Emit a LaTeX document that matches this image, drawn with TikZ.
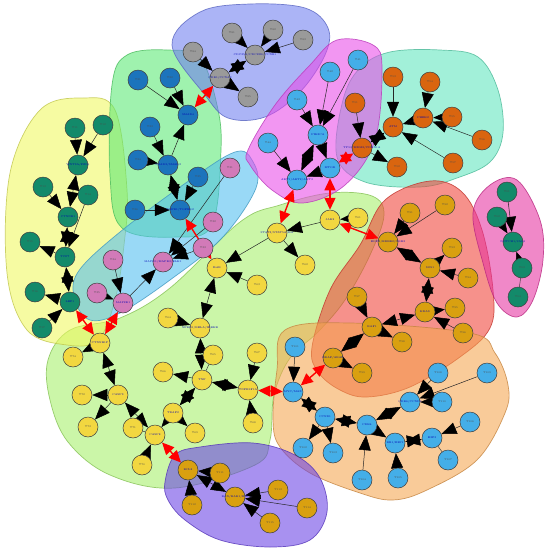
\documentclass[tikz,border=0pt]{standalone}
\usetikzlibrary{arrows.meta}
\pgfdeclarelayer{blobs}
\pgfdeclarelayer{edges}
\pgfsetlayers{blobs,edges,main}
\definecolor{cgrey}{HTML}{9A9A9A}
\definecolor{cdblue}{HTML}{1C74BC}
\definecolor{cteal}{HTML}{138A6A}
\definecolor{cpink}{HTML}{D27AB8}
\definecolor{clblue}{HTML}{44AEE8}
\definecolor{corange}{HTML}{D9650F}
\definecolor{cyellow}{HTML}{F2D740}
\definecolor{cgold}{HTML}{D9A010}
\definecolor{bgrey}{HTML}{6E7DF0}
\definecolor{bgreen}{HTML}{5AE873}
\definecolor{byellow}{HTML}{F0F85F}
\definecolor{blblue}{HTML}{50BEF0}
\definecolor{bmag}{HTML}{E84AE8}
\definecolor{bteal}{HTML}{5FE6BE}
\definecolor{bbig}{HTML}{A5F069}
\definecolor{bred}{HTML}{F04137}
\definecolor{bpink}{HTML}{E632A0}
\definecolor{bpeach}{HTML}{F5A550}
\definecolor{bpurp}{HTML}{6941E6}
\begin{document}
\begin{tikzpicture}[x=1pt,y=-1pt,
  blob/.style={fill opacity=0.58, draw opacity=0.8, line width=0.7pt},
  nd/.style={circle, draw=black!75, line width=0.5pt, minimum size=20pt, inner sep=0pt, font=\fontsize{2.6}{3}\selectfont, text=black!70},
  ng/.style={nd, fill=cgrey}, nb/.style={nd, fill=cdblue}, nt/.style={nd, fill=cteal},
  np/.style={nd, fill=cpink}, nl/.style={nd, fill=clblue}, no/.style={nd, fill=corange},
  ny/.style={nd, fill=cyellow}, nu/.style={nd, fill=cgold},
  hub/.style={label={[font=\fontsize{2.6}{3}\selectfont, text=blue!70!black, inner sep=0pt]center:#1}},
  e/.style={draw=black!85, line width=0.5pt, -{Triangle[length=15pt,width=12pt,color=black]}},
  bi/.style={draw=black!85, line width=0.5pt, {Triangle[length=15pt,width=12pt,color=black]}-{Triangle[length=15pt,width=12pt,color=black]}},
  ln/.style={draw=black!75, line width=0.5pt},
  rd/.style={draw=red, line width=1.4pt, {Triangle[length=12pt,width=11pt]}-{Triangle[length=12pt,width=11pt]}}
]
\useasboundingbox (0,0) rectangle (545,550);
% ---------- blobs ----------
\begin{pgfonlayer}{blobs}
\filldraw[blob, fill=bbig, draw=bbig!80!black] plot[smooth cycle, tension=0.6] coordinates {(48,360) (70,330) (120,318) (170,288) (240,222) (280,205) (330,193) (372,196) (384,215) (370,255) (345,300) (318,332) (290,358) (274,395) (270,440) (255,465) (175,488) (110,475) (68,442) (50,400)};
\filldraw[blob, fill=byellow, draw=byellow!80!black] plot[smooth cycle, tension=0.6] coordinates {(10,173) (40,110) (83,98) (115,110) (127,190) (124,245) (115,300) (98,340) (67,345) (27,330) (7,273)};
\filldraw[blob, fill=bgreen, draw=bgreen!80!black] plot[smooth cycle, tension=0.6] coordinates {(112,85) (127,55) (167,50) (200,58) (217,105) (221,150) (212,225) (177,237) (122,228) (110,175)};
\filldraw[blob, fill=blblue, draw=blblue!80!black] plot[smooth cycle, tension=0.6] coordinates {(78,272) (120,232) (190,180) (235,152) (252,160) (256,188) (222,238) (170,280) (120,313) (90,320) (75,300)};
\filldraw[blob, fill=bgrey, draw=bgrey!80!black] plot[smooth cycle, tension=0.6] coordinates {(172,45) (200,12) (250,4) (305,8) (328,28) (325,55) (300,92) (265,117) (228,118) (205,95)};
\filldraw[blob, fill=bteal, draw=bteal!80!black] plot[smooth cycle, tension=0.6] coordinates {(343,100) (360,68) (390,52) (440,50) (478,57) (498,90) (503,133) (490,162) (457,178) (420,187) (365,182) (337,157)};
\filldraw[blob, fill=bmag, draw=bmag!80!black] plot[smooth cycle, tension=0.6] coordinates {(248,150) (275,105) (310,65) (337,40) (373,45) (382,68) (375,140) (345,185) (303,203) (272,190) (250,165)};
\filldraw[blob, fill=bred, draw=bred!80!black] plot[smooth cycle, tension=0.6] coordinates {(312,347) (330,290) (360,245) (385,200) (430,181) (462,192) (482,230) (493,290) (490,328) (460,357) (410,387) (367,397) (340,390) (318,372)};
\filldraw[blob, fill=bpink, draw=bpink!80!black] plot[smooth cycle, tension=0.6] coordinates {(473,213) (490,185) (517,180) (540,220) (543,260) (533,300) (517,317) (497,303) (483,263)};
\filldraw[blob, fill=bpeach, draw=bpeach!80!black] plot[smooth cycle, tension=0.6] coordinates {(273,420) (277,370) (285,330) (350,323) (470,333) (495,353) (508,385) (505,413) (477,460) (427,490) (393,500) (360,493) (310,473) (280,447)};
\filldraw[blob, fill=bpurp, draw=bpurp!80!black] plot[smooth cycle, tension=0.6] coordinates {(165,482) (175,455) (200,447) (253,443) (295,455) (320,478) (327,512) (310,540) (270,547) (220,540) (185,520) (168,500)};
\end{pgfonlayer}
% ---------- nodes ----------
% grey
\node[ng] (g1) at (232,33) {T81};
\node[ng] (g2) at (273,30) {T82};
\node[ng] (g3) at (303,40) {T83};
\node[ng] (g4) at (193,52) {T84};
\node[ng, hub={CDC25A/CDC25B/CCNB1}] (G1) at (255,55) {};
\node[ng, hub={CDK1/CCNA2}] (G2) at (220,78) {};
\node[ng] (g5) at (248,97) {T85};
% dark blue
\node[nb] (b1) at (138,80) {T21};
\node[nb] (b2) at (170,78) {T22};
\node[nb, hub={SMAD4}] (B1) at (188,115) {};
\node[nb] (b3) at (150,127) {T23};
\node[nb, hub={SMAD2/SMAD3}] (B2) at (168,165) {};
\node[nb] (b4) at (138,160) {T24};
\node[nb] (b5) at (198,177) {T25};
\node[nb, hub={TGFB1/TGFBR2}] (B3) at (180,210) {};
\node[nb] (b6) at (135,210) {T26};
% teal (yellow blob)
\node[nt] (t1) at (75,128) {T11};
\node[nt] (t2) at (103,125) {T12};
\node[nt, hub={WNT3A/FZD1}] (T1) at (78,165) {};
\node[nt] (t3) at (43,187) {T13};
\node[nt] (t4) at (88,195) {T14};
\node[nt, hub={CTNNB1}] (T2) at (68,217) {};
\node[nt] (t5) at (30,242) {T15};
\node[nt, hub={TCF7}] (T3) at (65,257) {};
\node[nt] (t6) at (35,292) {T16};
\node[nt, hub={LEF1}] (T4) at (70,302) {};
\node[nt] (t7) at (42,328) {T17};
% pink
\node[np] (p1) at (230,168) {T31};
\node[np] (p2) at (213,222) {T32};
\node[np] (p3) at (203,248) {T33};
\node[np, hub={MAPK1/MAPK3/ELK1}] (P1) at (163,262) {};
\node[np] (p4) at (113,260) {T34};
\node[np] (p5) at (97,293) {T35};
\node[np, hub={MAP2K1}] (P2) at (123,303) {};
% light blue (magenta blob)
\node[nl] (l1) at (358,60) {T41};
\node[nl] (l2) at (330,72) {T42};
\node[nl] (l3) at (297,100) {T43};
\node[nl, hub={PIK3CA}] (L1) at (318,135) {};
\node[nl] (l4) at (268,143) {T44};
\node[nl, hub={AKT1/AKT2/AKT3}] (L2) at (297,180) {};
\node[nl, hub={MTOR}] (L3) at (330,168) {};
% orange (teal blob)
\node[no] (o1) at (355,103) {T51};
\node[no, hub={TP53/MDM2/CDKN1A}] (O1) at (362,148) {};
\node[no] (o2) at (397,167) {T52};
\node[no] (o3) at (393,77) {T53};
\node[no, hub={ATM}] (O2) at (393,127) {};
\node[no, hub={CHEK2}] (O3) at (423,118) {};
\node[no] (o4) at (430,82) {T54};
\node[no] (o5) at (452,117) {T55};
\node[no] (o6) at (482,140) {T56};
\node[no] (o7) at (453,163) {T57};
% yellow
\node[ny, hub={JAK2}] (Y3) at (330,220) {};
\node[ny] (y1) at (358,218) {T61};
\node[ny, hub={STAT3/STAT5A/IL6}] (Y2) at (277,233) {};
\node[ny] (y2) at (305,265) {T62};
\node[ny, hub={IL6R}] (Y4) at (217,268) {};
\node[ny] (y3) at (257,285) {T63};
\node[ny, hub={NFKB1/RELA/IKBKB}] (Y5) at (200,328) {};
\node[ny] (y4) at (168,318) {T64};
\node[ny] (y5) at (213,355) {T65};
\node[ny, hub={TNF}] (Y6) at (202,380) {};
\node[ny] (y6) at (163,372) {T66};
\node[ny] (y7) at (257,353) {T67};
\node[ny, hub={TNFRSF1A}] (Y7) at (248,390) {};
\node[ny] (y8) at (253,423) {T68};
\node[ny, hub={TRAF2}] (Y8) at (173,413) {};
\node[ny] (y9) at (195,433) {T69};
\node[ny, hub={CASP8}] (Y9) at (155,435) {};
\node[ny] (y10) at (142,465) {T70};
\node[ny] (y11) at (133,428) {T71};
\node[ny, hub={CASP3}] (Y10) at (118,395) {};
\node[ny] (y12) at (82,395) {T72};
\node[ny] (y13) at (88,427) {T73};
\node[ny, hub={CTNNB1P}] (Y1) at (100,343) {};
\node[ny] (y14) at (73,357) {T74};
% gold (red blob)
\node[nu, hub={EGFR/ERBB2/GRB2}] (Or1) at (388,242) {};
\node[nu] (r1) at (410,213) {T91};
\node[nu] (r2) at (445,205) {T92};
\node[nu] (r3) at (452,248) {T93};
\node[nu, hub={SOS1}] (Or2) at (430,268) {};
\node[nu] (r4) at (468,278) {T94};
\node[nu, hub={KRAS}] (Or3) at (425,312) {};
\node[nu] (r5) at (455,308) {T95};
\node[nu] (r6) at (463,333) {T96};
\node[nu, hub={RAF1}] (Or4) at (372,327) {};
\node[nu] (r7) at (357,297) {T97};
\node[nu] (r8) at (402,342) {T98};
\node[nu, hub={BRAF/ARAF}] (Or5) at (333,358) {};
\node[nu] (r9) at (362,373) {T99};
% teal (pink blob)
\node[nt] (k1) at (507,192) {T01};
\node[nt] (k2) at (497,217) {T02};
\node[nt, hub={NOTCH1/JAG1}] (K1) at (513,242) {};
\node[nt] (k3) at (522,268) {T03};
\node[nt] (k4) at (518,297) {T04};
% light blue (peach blob)
\node[nl] (bl1) at (295,347) {T101};
\node[nl, hub={MYC/MAX}] (BL1) at (293,392) {};
\node[nl, hub={CCND1}] (BL2) at (325,417) {};
\node[nl] (bl2) at (303,448) {T102};
\node[nl] (bl3) at (333,453) {T103};
\node[nl, hub={CDK4}] (BL3) at (367,425) {};
\node[nl] (bl4) at (362,480) {T104};
\node[nl, hub={RB1/E2F1}] (BL4) at (395,443) {};
\node[nl] (bl5) at (398,478) {T105};
\node[nl, hub={E2F3}] (BL5) at (432,438) {};
\node[nl] (bl6) at (470,422) {T106};
\node[nl] (bl7) at (448,460) {T107};
\node[nl, hub={CDK6/CCND2}] (BL6) at (410,402) {};
\node[nl] (bl8) at (438,373) {T108};
\node[nl] (bl9) at (487,373) {T109};
\node[nl] (bl10) at (442,402) {T110};
% gold (purple blob)
\node[nu, hub={BCL2}] (Ob1) at (188,470) {};
\node[nu] (ob1) at (220,473) {T111};
\node[nu] (ob2) at (192,505) {T112};
\node[nu, hub={BAX/BAK1/BID}] (Ob2) at (235,497) {};
\node[nu] (ob3) at (278,490) {T113};
\node[nu] (ob4) at (307,508) {T114};
\node[nu] (ob5) at (270,523) {T115};
% ---------- edges ----------
\begin{pgfonlayer}{edges}
% grey
\draw[e] (g1) -- (G1); \draw[e] (g2) -- (G1); \draw[e] (g3) -- (G1);
\draw[e] (g4) -- (G2); \draw[bi] (G1) -- (G2); \draw[e] (G2) -- (g5);
% dark blue
\draw[e] (b1) -- (B1); \draw[e] (b2) -- (B1); \draw[e] (B2) -- (B1);
\draw[e] (b3) -- (B2); \draw[e] (b4) -- (B2); \draw[bi] (B2) -- (B3);
\draw[e] (b5) -- (B3); \draw[e] (b6) -- (B3);
% teal
\draw[e] (t1) -- (T1); \draw[e] (t2) -- (T1); \draw[bi] (T1) -- (T2);
\draw[e] (t3) -- (T2); \draw[e] (t4) -- (T3); \draw[bi] (T2) -- (T3);
\draw[e] (T3) -- (t5); \draw[bi] (T3) -- (T4); \draw[e] (T4) -- (t6); \draw[e] (t7) -- (T4);
% pink
\draw[e] (p1) -- (P1); \draw[e] (p2) -- (P1); \draw[e] (p3) -- (P1);
\draw[e] (p4) -- (P2); \draw[e] (p5) -- (P2); \draw[e] (P2) -- (P1);
% light blue
\draw[e] (l1) -- (L1); \draw[e] (l2) -- (L1); \draw[e] (l3) -- (L1);
\draw[bi] (L1) -- (L2); \draw[bi] (L1) -- (L3); \draw[e] (l4) -- (L2); \draw[bi] (L3) -- (L2);
% orange
\draw[e] (o1) -- (O1); \draw[e] (o3) -- (O2); \draw[bi] (O2) -- (O1); \draw[e] (O3) -- (O2);
\draw[e] (o4) -- (O3); \draw[e] (o5) -- (O3); \draw[e] (o6) -- (O3); \draw[e] (o7) -- (O2);
\draw[e] (O1) -- (o2);
% yellow
\draw[e] (y1) -- (Y3); \draw[e] (Y3) -- (Y2); \draw[e] (Y2) -- (y2); \draw[e] (Y2) -- (Y4);
\draw[e] (y3) -- (Y4); \draw[bi] (Y4) -- (Y5); \draw[e] (y4) -- (Y5); \draw[bi] (Y5) -- (Y6);
\draw[ln] (y5) -- (Y6); \draw[e] (Y6) -- (y6); \draw[bi] (Y6) -- (Y7); \draw[e] (y7) -- (Y7);
\draw[e] (y8) -- (Y7); \draw[bi] (Y6) -- (Y8); \draw[e] (Y8) -- (y9); \draw[e] (Y8) -- (Y9);
\draw[e] (y10) -- (Y9); \draw[bi] (Y10) -- (Y9); \draw[ln] (y11) -- (Y9);
\draw[e] (Y10) -- (y12); \draw[e] (Y10) -- (y13); \draw[bi] (Y1) -- (Y10); \draw[e] (Y1) -- (y14);
% gold (red blob)
\draw[e] (r1) -- (Or1); \draw[e] (r2) -- (Or1); \draw[bi] (Or1) -- (Or2); \draw[e] (Or2) -- (r3);
\draw[e] (r4) -- (Or2); \draw[bi] (Or2) -- (Or3); \draw[e] (Or3) -- (r5); \draw[e] (r6) -- (Or3);
\draw[bi] (Or3) -- (Or4); \draw[e] (r7) -- (Or4); \draw[e] (Or4) -- (r8); \draw[bi] (Or4) -- (Or5);
\draw[e] (Or5) -- (r9);
% teal (pink blob)
\draw[e] (k1) -- (K1); \draw[e] (k2) -- (K1); \draw[e] (k3) -- (K1); \draw[ln] (k4) -- (k3);
% light blue (peach)
\draw[e] (bl1) -- (BL1); \draw[bi] (BL1) -- (BL2); \draw[e] (BL2) -- (bl2); \draw[e] (BL2) -- (bl3);
\draw[bi] (BL2) -- (BL3); \draw[e] (bl4) -- (BL3); \draw[bi] (BL3) -- (BL6); \draw[e] (BL3) -- (BL4);
\draw[e] (bl5) -- (BL4); \draw[bi] (BL4) -- (BL5); \draw[e] (bl6) -- (BL5); \draw[ln] (BL5) -- (bl7);
\draw[e] (bl8) -- (BL6); \draw[e] (bl9) -- (BL6); \draw[e] (bl10) -- (BL6);
% gold (purple)
\draw[e] (ob1) -- (Ob1); \draw[e] (ob2) -- (Ob1); \draw[bi] (Ob1) -- (Ob2);
\draw[e] (ob3) -- (Ob2); \draw[e] (ob4) -- (Ob2); \draw[e] (ob5) -- (Ob2);
% red inter-cluster
\draw[rd] (G2) -- (B1); \draw[rd] (B3) -- (Y4); \draw[rd] (T4) -- (Y1); \draw[rd] (P2) -- (Y1);
\draw[rd] (L2) -- (Y2); \draw[rd] (L3) -- (Y3); \draw[rd] (O1) -- (L3); \draw[rd] (Y3) -- (Or1);
\draw[rd] (Or5) -- (BL1); \draw[rd] (Y7) -- (BL1); \draw[rd] (Y9) -- (Ob1);
\end{pgfonlayer}
\end{tikzpicture}
\end{document}
